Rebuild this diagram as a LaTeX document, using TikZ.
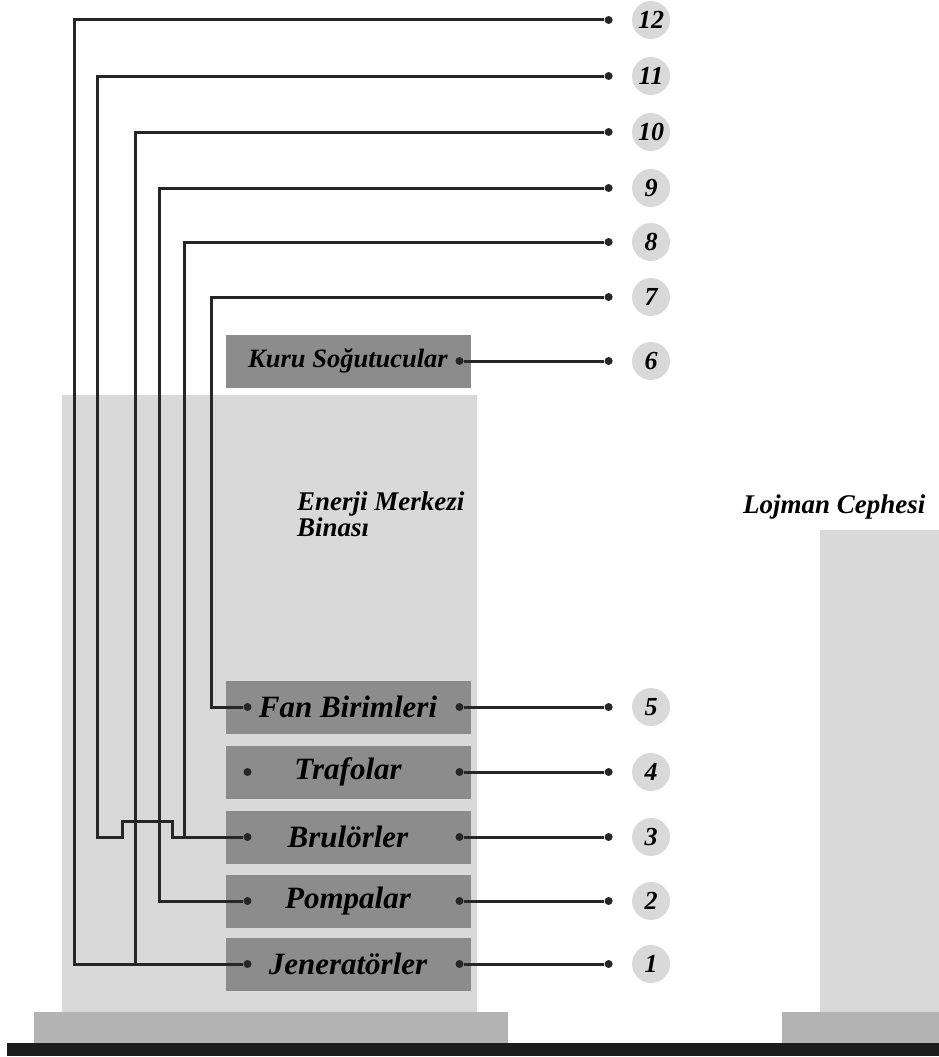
\documentclass[tikz,border=0pt]{standalone}
\usepackage{fontspec}
\setmainfont{Liberation Serif}
\usepackage{tikz}
\usetikzlibrary{positioning}
\definecolor{wallgray}{RGB}{217,217,217}
\definecolor{basegray}{RGB}{179,179,179}
\definecolor{unitgray}{RGB}{140,140,140}
\definecolor{groundblack}{RGB}{28,28,28}

\begin{document}
\begin{tikzpicture}[x=1pt, y=-1pt,
    unit/.style={fill=unitgray, minimum width=245pt, minimum height=53pt, inner sep=0pt,
        font=\fontsize{31}{31}\selectfont\bfseries\itshape},
    dot/.style={circle, fill=black!85, inner sep=0pt, minimum size=8pt},
    num/.style={circle, fill=wallgray, inner sep=0pt, minimum size=38pt,
        font=\fontsize{26}{26}\selectfont\bfseries\itshape},
    wire/.style={line width=3pt, black!85},
    tag/.style={inner sep=0pt, font=\fontsize{27}{22}\selectfont\bfseries\itshape}]
    \useasboundingbox (0,0) rectangle (939,1057);

    % buildings and ground
    \fill[wallgray] (62,395) rectangle (477,1012);
    \fill[wallgray] (820,530) rectangle (939,1012);
    \fill[basegray] (34,1012) rectangle (508,1043);
    \fill[basegray] (782,1012) rectangle (939,1043);
    \fill[groundblack] (7,1043) rectangle (939,1056);
    \node[tag, anchor=north west, align=left] (enerji) at (297,492) {Enerji Merkezi\\Binası};
    \node[tag, anchor=base west] (lojman) at (743,513) {Lojman Cephesi};

    % units
    \node[unit, font=\fontsize{26.5}{26.5}\selectfont\bfseries\itshape] (kuru) at (348,361) {Kuru Soğutucular};
    \node[unit] (fan) at (348,707) {Fan Birimleri};
    \node[unit] (tra) at (348,772) {Trafolar};
    \node[unit] (bru) at (348,837) {Brulörler};
    \node[unit] (pom) at (348,901) {Pompalar};
    \node[unit] (jen) at (348,964) {Jeneratörler};

    \node[dot, left=7pt of kuru.east] (kuruR) {};
    \node[dot, right=18pt of fan.west] (fanL) {};
    \node[dot, left=7pt of fan.east] (fanR) {};
    \node[dot, right=18pt of tra.west] (traL) {};
    \node[dot, left=7pt of tra.east] (traR) {};
    \node[dot, right=18pt of bru.west] (bruL) {};
    \node[dot, left=7pt of bru.east] (bruR) {};
    \node[dot, right=18pt of pom.west] (pomL) {};
    \node[dot, left=7pt of pom.east] (pomR) {};
    \node[dot, right=18pt of jen.west] (jenL) {};
    \node[dot, left=7pt of jen.east] (jenR) {};

    % numbers
    \node[num] (c12) at (651,20) {12};
    \node[num] (c11) at (651,76) {11};
    \node[num] (c10) at (651,132) {10};
    \node[num] (c9) at (651,188) {9};
    \node[num] (c8) at (651,242) {8};
    \node[num] (c7) at (651,297) {7};
    \node[num] (c6) at (651,361) {6};
    \node[num] (c5) at (651,707) {5};
    \node[num] (c4) at (651,772) {4};
    \node[num] (c3) at (651,837) {3};
    \node[num] (c2) at (651,901) {2};
    \node[num] (c1) at (651,964) {1};

    \node[dot, left=19pt of c12] (d12) {};
    \node[dot, left=19pt of c11] (d11) {};
    \node[dot, left=19pt of c10] (d10) {};
    \node[dot, left=19pt of c9] (d9) {};
    \node[dot, left=19pt of c8] (d8) {};
    \node[dot, left=19pt of c7] (d7) {};
    \node[dot, left=19pt of c6] (d6) {};
    \node[dot, left=19pt of c5] (d5) {};
    \node[dot, left=19pt of c4] (d4) {};
    \node[dot, left=19pt of c3] (d3) {};
    \node[dot, left=19pt of c2] (d2) {};
    \node[dot, left=19pt of c1] (d1) {};

    % right side
    \draw[wire] (kuruR) -- (d6);
    \draw[wire] (fanR) -- (d5);
    \draw[wire] (traR) -- (d4);
    \draw[wire] (bruR) -- (d3);
    \draw[wire] (pomR) -- (d2);
    \draw[wire] (jenR) -- (d1);

    % left side
    \draw[wire] (d12) -- ++(-534,0) |- (jenL);
    \draw[wire] (d11) -- ++(-511,0) -- ++(0,761) -- ++(25,0) -- ++(0,-16)
        -- ++(50,0) -- ++(0,16) -- (bruL);
    \draw[wire] (d10) -- ++(-473,0) |- (jenL);
    \draw[wire] (d9) -- ++(-449,0) |- (pomL);
    \draw[wire] (d8) -- ++(-424,0) |- (bruL);
    \draw[wire] (d7) -- ++(-397,0) |- (fanL);
\end{tikzpicture}
\end{document}
